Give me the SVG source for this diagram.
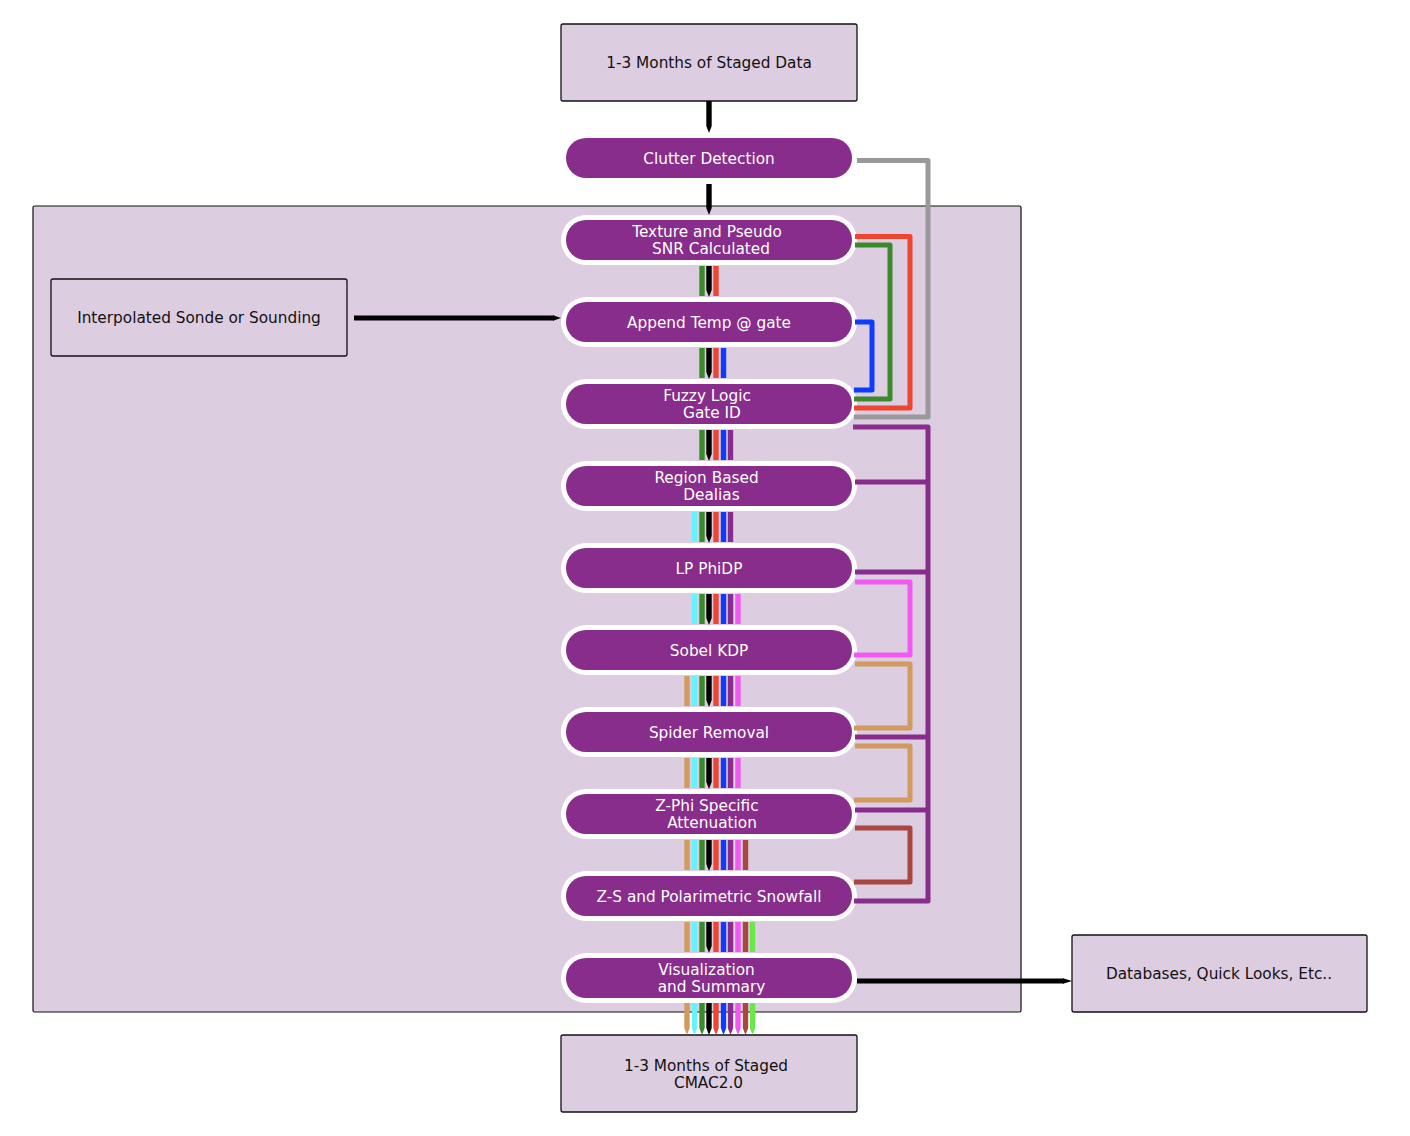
<svg xmlns="http://www.w3.org/2000/svg" xmlns:xlink="http://www.w3.org/1999/xlink" width="1410" height="1136" viewBox="0 0 1410 1136">
<style>
.box{fill:#ddcde0;stroke:#111;stroke-width:1.3}
.cont{fill:#ddcde0;stroke:#111;stroke-width:1.2}
.outl{fill:#fff}
.pill{fill:#882d8b}
.bt{font-family:"DejaVu Sans",Verdana,sans-serif;font-size:15.3px;fill:#111;text-anchor:middle}
.nt{font-family:"DejaVu Sans",Verdana,sans-serif;font-size:15.3px;fill:#fff;text-anchor:middle}
.ln{fill:none;stroke-width:5;stroke-linejoin:round;stroke-linecap:butt}
.k{fill:#000}.tan{fill:#d19a5e}.cy{fill:#66f2ff}.gr{fill:#3a8a2c}.rd{fill:#ee4530}.bl{fill:#0c3cff}.pu{fill:#882d8b}.mg{fill:#f05af0}.br{fill:#a84641}.li{fill:#6ae84a}
.sk{stroke:#000}.sgy{stroke:#999}.sgr{stroke:#3a8a2c}.srd{stroke:#ee4530}.sbl{stroke:#0c3cff}.spu{stroke:#882d8b}.smg{stroke:#f05af0}.stan{stroke:#d19a5e}.sbr{stroke:#a84641}
</style>
<defs>
<rect id="bar" x="-2.7" y="0" width="5.4" height="30"/>
<path id="tipbar" d="M-2.7 0H2.7V24L0 31L-2.7 24Z"/>
<path id="tipbar2" d="M-2.7 0H2.7V25L0 32L-2.7 25Z"/>
</defs>

<rect id="container" class="cont" x="33" y="206" width="988" height="806" rx="1.5"/>

<g id="node-staged-data"><rect class="box" x="561" y="24" width="296" height="77" rx="2"/><text class="bt" x="709" y="67.5">1-3 Months of Staged Data</text></g>
<g id="node-sonde"><rect class="box" x="51" y="279" width="296" height="77" rx="2"/><text class="bt" x="199" y="322.5">Interpolated Sonde or Sounding</text></g>
<g id="node-databases"><rect class="box" x="1072" y="935" width="295" height="77" rx="2"/><text class="bt" x="1219" y="978.5">Databases, Quick Looks, Etc..</text></g>
<g id="node-cmac"><rect class="box" x="561" y="1035" width="296" height="77" rx="2"/><text class="bt"><tspan x="706" y="1070.5">1-3 Months of Staged</tspan><tspan x="708.5" y="1087.5">CMAC2.0</tspan></text></g>

<g id="node-clutter"><rect class="outl" x="561" y="133" width="296" height="50" rx="25"/><rect class="pill" x="566" y="138" width="286" height="40" rx="20"/><text class="nt" x="709" y="163.5">Clutter Detection</text></g>
<g id="node-texture"><rect class="outl" x="561" y="215" width="296" height="50" rx="25"/><rect class="pill" x="566" y="220" width="286" height="40" rx="20"/><text class="nt"><tspan x="707" y="236.5">Texture and Pseudo</tspan><tspan x="711" y="253.5">SNR Calculated</tspan></text></g>
<g id="node-append"><rect class="outl" x="561" y="297" width="296" height="50" rx="25"/><rect class="pill" x="566" y="302" width="286" height="40" rx="20"/><text class="nt" x="709" y="327.5">Append Temp @ gate</text></g>
<g id="node-fuzzy"><rect class="outl" x="561" y="379" width="296" height="50" rx="25"/><rect class="pill" x="566" y="384" width="286" height="40" rx="20"/><text class="nt"><tspan x="707" y="400.5">Fuzzy Logic</tspan><tspan x="712" y="417.5">Gate ID</tspan></text></g>
<g id="node-region"><rect class="outl" x="561" y="461" width="296" height="50" rx="25"/><rect class="pill" x="566" y="466" width="286" height="40" rx="20"/><text class="nt"><tspan x="706.5" y="482.5">Region Based</tspan><tspan x="711.5" y="499.5">Dealias</tspan></text></g>
<g id="node-lpphidp"><rect class="outl" x="561" y="543" width="296" height="50" rx="25"/><rect class="pill" x="566" y="548" width="286" height="40" rx="20"/><text class="nt" x="709" y="573.5">LP PhiDP</text></g>
<g id="node-sobel"><rect class="outl" x="561" y="625" width="296" height="50" rx="25"/><rect class="pill" x="566" y="630" width="286" height="40" rx="20"/><text class="nt" x="709" y="655.5">Sobel KDP</text></g>
<g id="node-spider"><rect class="outl" x="561" y="707" width="296" height="50" rx="25"/><rect class="pill" x="566" y="712" width="286" height="40" rx="20"/><text class="nt" x="709" y="737.5">Spider Removal</text></g>
<g id="node-zphi"><rect class="outl" x="561" y="789" width="296" height="50" rx="25"/><rect class="pill" x="566" y="794" width="286" height="40" rx="20"/><text class="nt"><tspan x="707" y="810.5">Z-Phi Specific</tspan><tspan x="712" y="827.5">Attenuation</tspan></text></g>
<g id="node-zs"><rect class="outl" x="561" y="871" width="296" height="50" rx="25"/><rect class="pill" x="566" y="876" width="286" height="40" rx="20"/><text class="nt" x="709" y="901.5">Z-S and Polarimetric Snowfall</text></g>
<g id="node-vis"><rect class="outl" x="561" y="953" width="296" height="50" rx="25"/><rect class="pill" x="566" y="958" width="286" height="40" rx="20"/><text class="nt"><tspan x="706.5" y="974.5">Visualization</tspan><tspan x="711.5" y="991.5">and Summary</tspan></text></g>

<g id="connectors">
<path class="k" d="M706.3 101H711.7V126L709 133L706.3 126Z"/>
<path class="k" d="M706.3 184H711.7V208L709 215L706.3 208Z"/>
<path class="ln sk" stroke-linecap="round" d="M354 318H554"/>
<path class="k" d="M553 315.3L561 318L553 320.7Z"/>
<path class="ln sk" d="M857 981H1064"/>
<path class="k" d="M1063 978.3L1072 981L1063 983.7Z"/>
<use href="#bar" class="gr" x="702" y="266"/><use href="#tipbar" class="k" x="709" y="266"/><use href="#bar" class="rd" x="716" y="266"/>
<use href="#bar" class="gr" x="702" y="348"/><use href="#tipbar" class="k" x="709" y="348"/><use href="#bar" class="rd" x="716" y="348"/><use href="#bar" class="bl" x="723.5" y="348"/>
<use href="#bar" class="gr" x="702" y="430"/><use href="#tipbar" class="k" x="709" y="430"/><use href="#bar" class="rd" x="716" y="430"/><use href="#bar" class="bl" x="723.5" y="430"/><use href="#bar" class="pu" x="730.5" y="430"/>
<use href="#bar" class="cy" x="694.5" y="512"/><use href="#bar" class="gr" x="702" y="512"/><use href="#tipbar" class="k" x="709" y="512"/><use href="#bar" class="rd" x="716" y="512"/><use href="#bar" class="bl" x="723.5" y="512"/><use href="#bar" class="pu" x="730.5" y="512"/>
<use href="#bar" class="cy" x="694.5" y="594"/><use href="#bar" class="gr" x="702" y="594"/><use href="#tipbar" class="k" x="709" y="594"/><use href="#bar" class="rd" x="716" y="594"/><use href="#bar" class="bl" x="723.5" y="594"/><use href="#bar" class="pu" x="730.5" y="594"/><use href="#bar" class="mg" x="738" y="594"/>
<use href="#bar" class="tan" x="687" y="676"/><use href="#bar" class="cy" x="694.5" y="676"/><use href="#bar" class="gr" x="702" y="676"/><use href="#tipbar" class="k" x="709" y="676"/><use href="#bar" class="rd" x="716" y="676"/><use href="#bar" class="bl" x="723.5" y="676"/><use href="#bar" class="pu" x="730.5" y="676"/><use href="#bar" class="mg" x="738" y="676"/>
<use href="#bar" class="tan" x="687" y="758"/><use href="#bar" class="cy" x="694.5" y="758"/><use href="#bar" class="gr" x="702" y="758"/><use href="#tipbar" class="k" x="709" y="758"/><use href="#bar" class="rd" x="716" y="758"/><use href="#bar" class="bl" x="723.5" y="758"/><use href="#bar" class="pu" x="730.5" y="758"/><use href="#bar" class="mg" x="738" y="758"/>
<use href="#bar" class="tan" x="687" y="840"/><use href="#bar" class="cy" x="694.5" y="840"/><use href="#bar" class="gr" x="702" y="840"/><use href="#tipbar" class="k" x="709" y="840"/><use href="#bar" class="rd" x="716" y="840"/><use href="#bar" class="bl" x="723.5" y="840"/><use href="#bar" class="pu" x="730.5" y="840"/><use href="#bar" class="mg" x="738" y="840"/><use href="#bar" class="br" x="745.5" y="840"/>
<use href="#bar" class="tan" x="687" y="922"/><use href="#bar" class="cy" x="694.5" y="922"/><use href="#bar" class="gr" x="702" y="922"/><use href="#tipbar" class="k" x="709" y="922"/><use href="#bar" class="rd" x="716" y="922"/><use href="#bar" class="bl" x="723.5" y="922"/><use href="#bar" class="pu" x="730.5" y="922"/><use href="#bar" class="mg" x="738" y="922"/><use href="#bar" class="br" x="745.5" y="922"/><use href="#bar" class="li" x="752.5" y="922"/>
<use href="#tipbar2" class="tan" x="687" y="1003"/><use href="#tipbar2" class="cy" x="694.5" y="1003"/><use href="#tipbar2" class="gr" x="702" y="1003"/><use href="#tipbar2" class="k" x="709" y="1003"/><use href="#tipbar2" class="rd" x="716" y="1003"/><use href="#tipbar2" class="bl" x="723.5" y="1003"/><use href="#tipbar2" class="pu" x="730.5" y="1003"/><use href="#tipbar2" class="mg" x="738" y="1003"/><use href="#tipbar2" class="br" x="745.5" y="1003"/><use href="#tipbar2" class="li" x="752.5" y="1003"/>
<path class="ln sgy" d="M857 160.5H928V417H854"/>
<path class="ln srd" d="M855 236.5H910V408H854"/>
<path class="ln sgr" d="M855 245H890V399H854"/>
<path class="ln sbl" d="M855 322H872V390H854"/>
<path class="ln spu" d="M853 427H928V901H854"/>
<path class="ln spu" d="M855 482H928"/>
<path class="ln spu" d="M855 572H928"/>
<path class="ln spu" d="M855 737H928"/>
<path class="ln spu" d="M855 810H928"/>
<path class="ln smg" d="M855 582H910V655H854"/>
<path class="ln stan" d="M855 664H910V728H854"/>
<path class="ln stan" d="M855 746H910V800H854"/>
<path class="ln sbr" d="M855 828H910V882H854"/>
</g>
</svg>
